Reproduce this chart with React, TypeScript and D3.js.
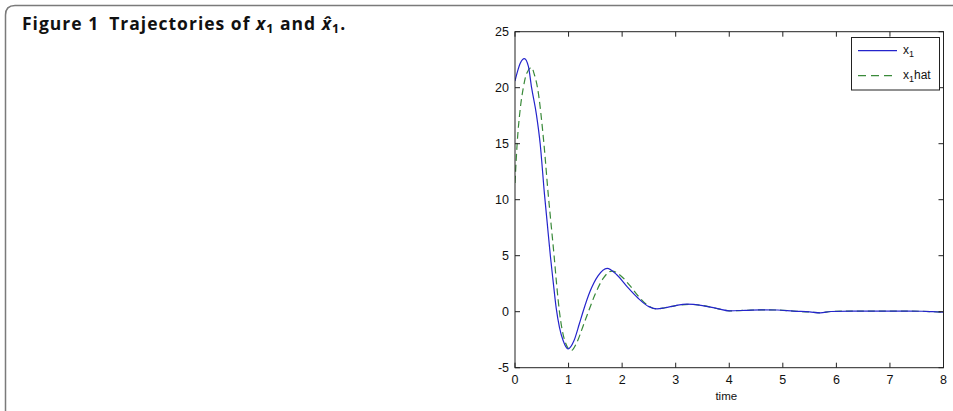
import React from "react";
import * as d3 from "d3";

const xTicks = [0, 1, 2, 3, 4, 5, 6, 7, 8];
const yTicks = [-5, 0, 5, 10, 15, 20, 25];

const x1T = [0, 0.05, 0.1, 0.175, 0.25, 0.31, 0.4, 0.47, 0.55, 0.6, 0.66, 0.71, 0.77, 0.83, 0.9, 0.99, 1.1, 1.2, 1.27, 1.4, 1.55, 1.72, 1.9, 2.1, 2.3, 2.5, 2.65, 2.8, 3.0, 3.2, 3.5, 3.8, 4.0, 4.3, 4.6, 4.9, 5.2, 5.5, 5.7, 5.9, 6.3, 7.0, 7.6, 7.8, 8.0];
const x1V = [20.6, 21.5, 22.2, 22.6, 21.9, 20.0, 17.6, 15.0, 10.5, 8.0, 5.0, 2.8, 0.3, -1.4, -2.6, -3.33, -2.6, -1.1, 0, 1.8, 3.2, 3.87, 3.3, 2.2, 1.2, 0.45, 0.25, 0.35, 0.55, 0.68, 0.55, 0.25, 0.08, 0.12, 0.17, 0.15, 0.05, -0.02, -0.1, 0.02, 0.05, 0.05, 0.04, 0.0, -0.05];

const x1hatT = [0, 0.04, 0.1, 0.155, 0.22, 0.31, 0.36, 0.42, 0.54, 0.62, 0.68, 0.73, 0.78, 0.83, 0.93, 1.05, 1.15, 1.27, 1.37, 1.5, 1.65, 1.81, 2.0, 2.15, 2.3, 2.5, 2.65, 2.8, 3.0, 3.25, 3.5, 3.8, 4.0, 4.3, 4.6, 4.9, 5.2, 5.5, 5.7, 5.9, 6.3, 7.0, 7.6, 7.8, 8.0];
const x1hatV = [11.5, 15.0, 18.2, 20.0, 21.3, 21.8, 21.2, 20.0, 15.0, 10.5, 7.5, 5.0, 2.3, 0, -2.6, -3.48, -2.8, -1.3, 0, 1.6, 3.0, 3.63, 3.1, 2.3, 1.4, 0.5, 0.25, 0.35, 0.55, 0.65, 0.55, 0.25, 0.08, 0.12, 0.17, 0.15, 0.05, -0.02, -0.1, 0.02, 0.05, 0.05, 0.04, 0.0, -0.05];

const legendLabels = ["x", "x"];

export default function App() {
  const W = 953, H = 411;
  const left = 515, right = 943.5, top = 31.7, bottom = 367.7;
  const x = d3.scaleLinear().domain([0, 8]).range([left, right]);
  const y = d3.scaleLinear().domain([-5, 25]).range([bottom, top]);

  const line = d3
    .line<[number, number]>()
    .x((d) => x(d[0]))
    .y((d) => y(d[1]))
    .curve(d3.curveMonotoneX);

  const blue = line(x1T.map((t, i) => [t, x1V[i]] as [number, number])) || "";
  const green = line(x1hatT.map((t, i) => [t, x1hatV[i]] as [number, number])) || "";

  const tickLen = 5;
  const axisColor = "#222";
  const font = "'Liberation Sans', Arial, sans-serif";
  const blueC = "#2424cc";
  const greenC = "#3a8a3a";

  return (
    <svg
      width={W}
      height={H}
      style={{ position: "absolute", left: 0, top: 0, background: "#fff" }}
    >
      {/* card border */}
      <path
        d={`M5.5,${H} L5.5,15 Q5.5,5.5 15,5.5 L${W},5.5`}
        fill="none"
        stroke="#7a7a7a"
        strokeWidth={1.5}
      />
      {/* title */}
      <text x={22} y={29.5} fontFamily="'Open Sans', 'Noto Sans', sans-serif" fontWeight="bold" fontSize={17.5} letterSpacing={1} fill="#111">
        <tspan>Figure 1</tspan>
        <tspan dx={10}>Trajectories of </tspan>
        <tspan fontStyle="italic">x</tspan>
        <tspan dy={3.5} fontSize={12.5}>1</tspan>
        <tspan dy={-3.5}> and </tspan>
        <tspan fontStyle="italic">x̂</tspan>
        <tspan dy={3.5} fontSize={12.5}>1</tspan>
        <tspan dy={-3.5}>.</tspan>
      </text>

      {/* clip */}
      <defs>
        <clipPath id="plotclip">
          <rect x={left} y={top} width={right - left} height={bottom - top} />
        </clipPath>
      </defs>

      {/* lines */}
      <g clipPath="url(#plotclip)">
        <path d={green} fill="none" stroke={greenC} strokeWidth={1.2} strokeDasharray="7,4" />
        <path d={blue} fill="none" stroke={blueC} strokeWidth={1.2} />
      </g>

      {/* axes box */}
      <rect x={left} y={top} width={right - left} height={bottom - top} fill="none" stroke={axisColor} strokeWidth={1} />

      {/* x ticks */}
      {xTicks.map((t) => (
        <g key={"x" + t}>
          <line x1={x(t)} x2={x(t)} y1={bottom} y2={bottom - tickLen} stroke={axisColor} />
          <line x1={x(t)} x2={x(t)} y1={top} y2={top + tickLen} stroke={axisColor} />
          <text x={x(t)} y={384} textAnchor="middle" fontFamily={font} fontSize={12.5} fill="#111">
            {t}
          </text>
        </g>
      ))}
      {/* y ticks */}
      {yTicks.map((t) => (
        <g key={"y" + t}>
          <line x1={left} x2={left + tickLen} y1={y(t)} y2={y(t)} stroke={axisColor} />
          <line x1={right} x2={right - tickLen} y1={y(t)} y2={y(t)} stroke={axisColor} />
          <text x={509} y={y(t) + 4.3} textAnchor="end" fontFamily={font} fontSize={12.5} fill="#111">
            {t}
          </text>
        </g>
      ))}
      <text x={x(4) - 3} y={400} textAnchor="middle" fontFamily={font} fontSize={11.5} fill="#111">
        time
      </text>

      {/* legend */}
      <rect x={851.5} y={37.5} width={88} height={52.5} fill="#fff" stroke={axisColor} strokeWidth={1} />
      <line x1={858} x2={897} y1={50.7} y2={50.7} stroke={blueC} strokeWidth={1.2} />
      <line x1={858} x2={897} y1={75.7} y2={75.7} stroke={greenC} strokeWidth={1.2} strokeDasharray="8,5" />
      <text x={903} y={53.5} fontFamily={font} fontSize={12} fill="#111">
        <tspan>{legendLabels[0]}</tspan>
        <tspan dy={3} fontSize={9}>1</tspan>
      </text>
      <text x={903} y={78.5} fontFamily={font} fontSize={12} fill="#111">
        <tspan>{legendLabels[1]}</tspan>
        <tspan dy={3} fontSize={9}>1</tspan>
        <tspan dy={-3}>hat</tspan>
      </text>
    </svg>
  );
}
